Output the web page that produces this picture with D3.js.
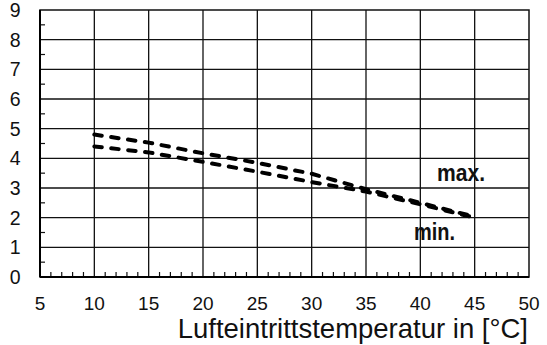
<!DOCTYPE html>
<html><head><meta charset="utf-8">
<script src="https://cdn.jsdelivr.net/npm/d3@7"></script>
<style>body{margin:0;background:#fff}svg{display:block}</style>
</head><body>
<script>
const temps = [10, 15, 20, 25, 30, 35, 40, 45];
const maxValues = [4.8, 4.53, 4.17, 3.85, 3.48, 2.96, 2.5, 2.03];
const minValues = [4.4, 4.2, 3.88, 3.55, 3.2, 2.88, 2.45, 2.0];
const xTicks = [5, 10, 15, 20, 25, 30, 35, 40, 45, 50];
const yTicks = [0, 1, 2, 3, 4, 5, 6, 7, 8, 9];
const xTitle = "Lufteintrittstemperatur in [°C]";

const W = 547, H = 345;
const m = {l: 40, r: 18, t: 10, b: 68};
const svg = d3.select("body").append("svg").attr("width", W).attr("height", H);
const x = d3.scaleLinear().domain([5, 50]).range([m.l, W - m.r]);
const y = d3.scaleLinear().domain([0, 9]).range([H - m.b, m.t]);
const font = "Liberation Sans, Arial, sans-serif";

// grid
svg.append("g").selectAll("line").data(xTicks.slice(1, -1)).join("line")
  .attr("x1", d => x(d)).attr("x2", d => x(d)).attr("y1", y(0)).attr("y2", y(9))
  .attr("stroke", "#111").attr("stroke-width", 1.3);
svg.append("g").selectAll("line").data(yTicks.slice(1, -1)).join("line")
  .attr("x1", x(5)).attr("x2", x(50)).attr("y1", d => y(d)).attr("y2", d => y(d))
  .attr("stroke", "#111").attr("stroke-width", 1.3);

// minor ticks (inside)
const xMinor = d3.range(6, 50).filter(d => d % 5 !== 0);
svg.append("g").selectAll("line").data(xMinor).join("line")
  .attr("x1", d => x(d)).attr("x2", d => x(d)).attr("y1", y(0)).attr("y2", y(0) - 5)
  .attr("stroke", "#111").attr("stroke-width", 1.2);
const yMinor = d3.range(0.5, 9, 1);
svg.append("g").selectAll("line").data(yMinor).join("line")
  .attr("x1", x(5)).attr("x2", x(5) + 5).attr("y1", d => y(d)).attr("y2", d => y(d))
  .attr("stroke", "#111").attr("stroke-width", 1.2);

// frame
svg.append("rect").attr("x", x(5)).attr("y", y(9)).attr("width", x(50) - x(5)).attr("height", y(0) - y(9))
  .attr("fill", "none").attr("stroke", "#111").attr("stroke-width", 1.5);
svg.append("line").attr("x1", x(5)).attr("x2", x(50)).attr("y1", y(0)).attr("y2", y(0)).attr("stroke", "#000").attr("stroke-width", 2);
svg.append("line").attr("x1", x(5)).attr("x2", x(5)).attr("y1", y(0)).attr("y2", y(9)).attr("stroke", "#000").attr("stroke-width", 2);

// tick labels
svg.append("g").selectAll("text").data(yTicks).join("text")
  .attr("x", 20.5).attr("y", d => y(d)).attr("dy", "0.36em").attr("text-anchor", "end")
  .attr("font-family", font).attr("font-size", 19.5).attr("fill", "#111").text(d => d);
svg.append("g").selectAll("text").data(xTicks).join("text")
  .attr("x", d => x(d)).attr("y", 310).attr("text-anchor", "middle")
  .attr("font-family", font).attr("font-size", 19).attr("fill", "#111").text(d => d);
svg.append("text").attr("x", 528).attr("y", 338).attr("text-anchor", "end")
  .attr("font-family", font).attr("font-size", 27.5).attr("fill", "#111").text(xTitle);

// lines
const line = d3.line().x(d => x(d[0])).y(d => y(d[1]));
[maxValues, minValues].forEach(vals => {
  svg.append("path").datum(temps.map((t, i) => [t, vals[i]]))
    .attr("d", line).attr("fill", "none").attr("stroke", "#000")
    .attr("stroke-width", 4).attr("stroke-linecap", "round")
    .attr("stroke-dasharray", "7.5,9.5");
});

// labels
svg.append("text").attr("x", 437).attr("y", 181).attr("font-family", font)
  .attr("font-weight", "bold").attr("font-size", 24).attr("fill", "#111")
  .attr("textLength", 48).attr("lengthAdjust", "spacingAndGlyphs").text("max.");
svg.append("text").attr("x", 414).attr("y", 240).attr("font-family", font)
  .attr("font-weight", "bold").attr("font-size", 24).attr("fill", "#111")
  .attr("textLength", 41).attr("lengthAdjust", "spacingAndGlyphs").text("min.");
</script>
</body></html>
